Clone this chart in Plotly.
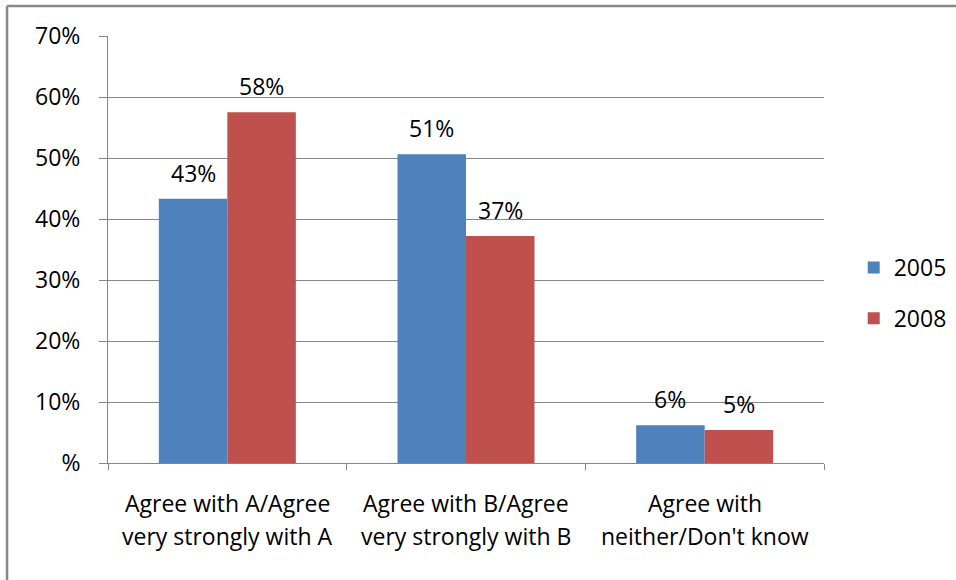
import plotly.graph_objects as go

categories = ["Agree with A/Agree<br>very strongly with A",
              "Agree with B/Agree<br>very strongly with B",
              "Agree with<br>neither/Don't know"]
series_names = ["2005", "2008"]
values_2005 = [43.3, 50.6, 6.2]
values_2008 = [57.5, 37.2, 5.4]
colors = ["#4F81BD", "#C0504D"]
y_tickvals = [0, 10, 20, 30, 40, 50, 60, 70]
y_ticktext = ["%", "10%", "20%", "30%", "40%", "50%", "60%", "70%"]

FONT = "Open Sans"
FS = 23
GRID = "#868686"

x_idx = list(range(len(categories)))
bar_w = 0.287

fig = go.Figure()
all_vals = [values_2005, values_2008]
offsets = [-bar_w, 0.0]
for k, (name, vals) in enumerate(zip(series_names, all_vals)):
    fig.add_trace(go.Bar(
        x=x_idx, y=vals, name=name, width=bar_w, offset=offsets[k],
        marker=dict(color=colors[k], line=dict(width=0)),
        legendgroup=name,
    ))

annotations = []
for k, vals in enumerate(all_vals):
    for i, v in enumerate(vals):
        annotations.append(dict(
            x=i + offsets[k] + bar_w / 2, y=v, xref="x", yref="y",
            text=f"{int(v + 0.5)}%", showarrow=False, yanchor="middle",
            yshift=26, font=dict(family=FONT, size=FS, color="#000000"),
        ))
for i, cat in enumerate(categories):
    lines = cat.split("<br>")
    for j, line in enumerate(lines):
        annotations.append(dict(
            x=i, y=0, xref="x", yref="y", text=line, showarrow=False,
            yanchor="middle", yshift=-40 - 33 * j,
            font=dict(family=FONT, size=FS, color="#000000"),
        ))

shapes = [
    dict(type="line", xref="paper", yref="paper", x0=-0.141, x1=1.2, y0=1.070, y1=1.070,
         line=dict(color="#888888", width=2.5)),
    dict(type="line", xref="paper", yref="paper", x0=-0.141, x1=-0.141, y0=1.070, y1=-0.3,
         line=dict(color="#888888", width=2.5)),
]

fig.update_layout(
    width=956, height=580,
    margin=dict(l=108, r=132, t=36, b=117),
    paper_bgcolor="white", plot_bgcolor="white",
    font=dict(family=FONT, size=FS, color="#000000"),
    showlegend=True,
    legend=dict(xref="container", yref="container", x=0.893, xanchor="left",
                y=(580 - 293) / 580, yanchor="middle",
                traceorder="grouped", tracegroupgap=18,
                font=dict(family=FONT, size=FS, color="#000000")),
    xaxis=dict(range=[-0.5, 2.5], tickvals=[-0.5, 0.5, 1.5, 2.5], ticktext=["", "", "", ""],
               ticks="outside", ticklen=6, tickcolor=GRID, showgrid=False,
               showline=True, linecolor=GRID, linewidth=1, zeroline=False, fixedrange=True),
    yaxis=dict(range=[0, 70], tickvals=y_tickvals, ticktext=y_ticktext,
               ticks="outside", ticklen=8, tickcolor=GRID, showgrid=True, gridcolor=GRID,
               gridwidth=1, showline=True, linecolor=GRID, linewidth=1, zeroline=False,
               ticklabelstandoff=14),
    annotations=annotations,
    shapes=shapes,
)

fig.write_html("out.html", config={"displayModeBar": False},
               post_script="document.body.style.margin='0';document.body.style.overflow='hidden';")
